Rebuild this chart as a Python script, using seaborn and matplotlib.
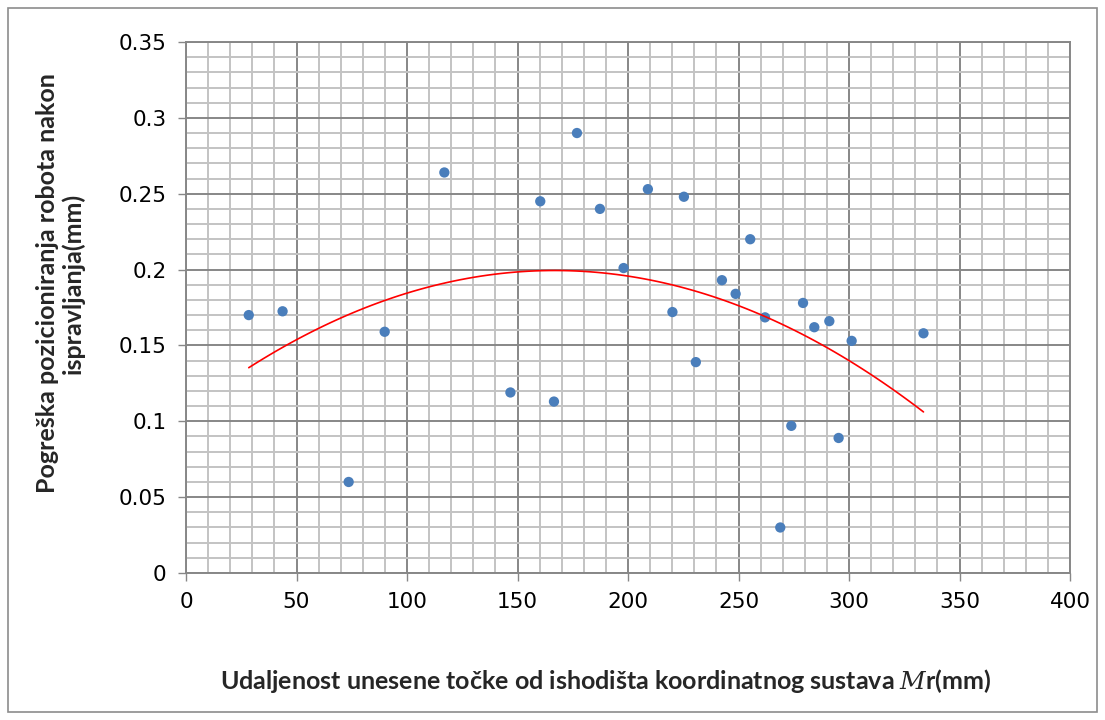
import matplotlib
matplotlib.use('Agg')
import matplotlib.pyplot as plt
import seaborn as sns
import pandas as pd
from matplotlib.patches import Rectangle
from matplotlib.ticker import MultipleLocator

# udaljenost tocke od ishodista (mm)
udaljenost = [28.4, 43.7, 73.6, 89.9, 116.9, 146.8, 160.3, 166.5, 176.9,
              187.3, 198.0, 209.0, 220.1, 225.3, 230.7, 242.5, 248.7, 255.3,
              262.0, 268.9, 273.9, 279.2, 284.3, 291.1, 295.3, 301.2, 333.7]
# pogreska nakon ispravljanja (mm)
pogreska = [0.170, 0.1725, 0.060, 0.159, 0.264, 0.119, 0.245, 0.113, 0.290,
            0.240, 0.201, 0.253, 0.172, 0.248, 0.139, 0.193, 0.184, 0.220,
            0.1685, 0.030, 0.097, 0.178, 0.162, 0.166, 0.089, 0.153, 0.158]

x_ticks = [0, 50, 100, 150, 200, 250, 300, 350, 400]
y_ticks = [0, 0.05, 0.1, 0.15, 0.2, 0.25, 0.3, 0.35]
y_tick_labels = ['0', '0.05', '0.1', '0.15', '0.2', '0.25', '0.3', '0.35']

df = pd.DataFrame({'udaljenost': udaljenost, 'pogreska': pogreska})

sns.set_theme(style='white')
plt.rcParams['font.family'] = ['DejaVu Sans']
plt.rcParams['mathtext.fontset'] = 'dejavuserif'

fig = plt.figure(figsize=(11.05, 7.2), dpi=100)
ax = fig.add_axes([186 / 1105, 1 - 573 / 720, 884 / 1105, 531 / 720])

major_c = '#878787'
minor_c = '#c3c3c3'

ax.set_xlim(0, 400)
ax.set_ylim(0, 0.35)
ax.xaxis.set_major_locator(MultipleLocator(50))
ax.xaxis.set_minor_locator(MultipleLocator(10))
ax.yaxis.set_major_locator(MultipleLocator(0.05))
ax.yaxis.set_minor_locator(MultipleLocator(0.01))
ax.grid(which='minor', color=minor_c, linewidth=1.4)
ax.grid(which='major', color=major_c, linewidth=1.4)
ax.set_axisbelow(True)

sns.scatterplot(data=df, x='udaljenost', y='pogreska', ax=ax, color='#4a7ebb',
                s=55, edgecolor='none', zorder=3)
# polinomni trend 2. reda
sns.regplot(data=df, x='udaljenost', y='pogreska', ax=ax, order=2, ci=None,
            scatter=False, truncate=True,
            line_kws={'color': 'red', 'linewidth': 1.2, 'zorder': 4})

ax.set_xticks(x_ticks)
ax.set_yticks(y_ticks)
ax.set_yticklabels(y_tick_labels)
ax.tick_params(which='major', direction='out', length=6, width=1.0, color=major_c,
               labelsize=15.5, labelcolor='black', pad=8, bottom=True, left=True)
ax.tick_params(which='minor', length=0)
for sp in ax.spines.values():
    sp.set_color(major_c)
    sp.set_linewidth(1.4)

lab_font = {'family': 'Lato', 'weight': 'bold', 'size': 18}
ax.set_xlabel('Udaljenost unesene točke od ishodišta koordinatnog sustava $M$r(mm)',
              fontdict=lab_font)
ax.xaxis.set_label_coords((606 - 186) / 884, -(667 - 573) / 531)
ax.set_ylabel('Pogreška pozicioniranja robota nakon\nispravljanja(mm)',
              fontdict=lab_font, linespacing=1.1)
ax.yaxis.set_label_coords(-(186 - 85) / 884, (573 - 283) / 531)

# okvir oko grafikona
fig.patches.append(Rectangle((8 / 1105, 8 / 720), 1089 / 1105, 704 / 720,
                             transform=fig.transFigure, fill=False,
                             edgecolor='#8c8c8c', linewidth=1.2))

fig.savefig('out.png', dpi=100)
